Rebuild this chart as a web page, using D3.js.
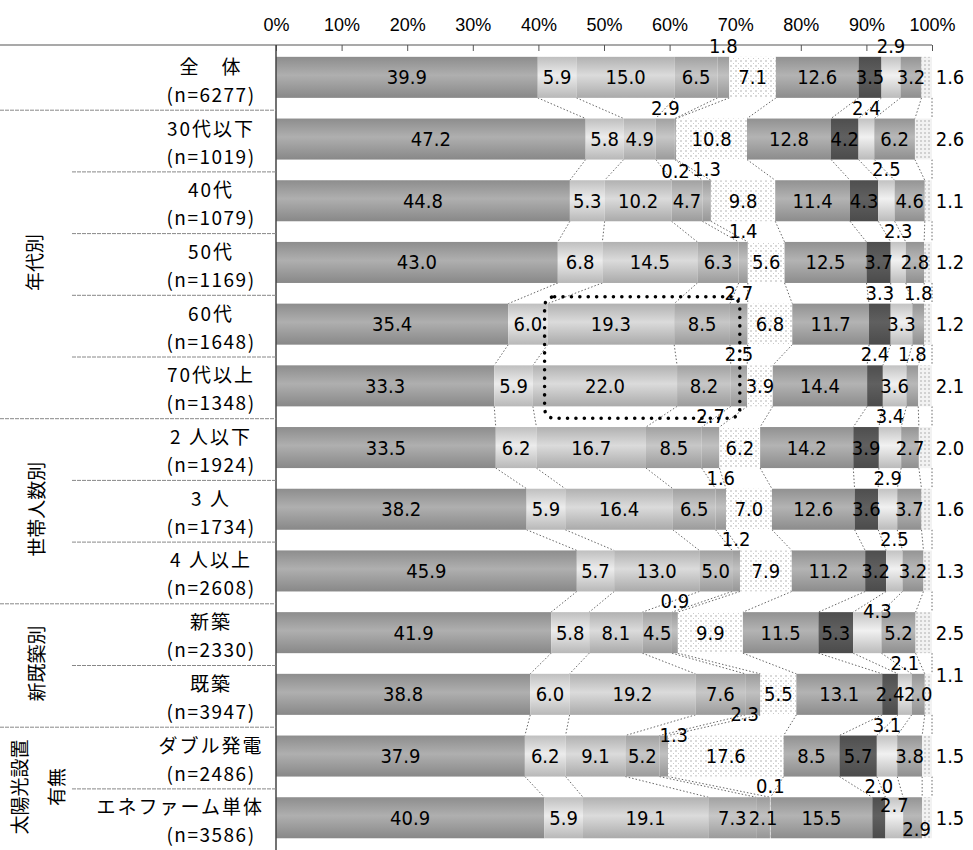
<!DOCTYPE html>
<html><head><meta charset="utf-8">
<script src="https://cdn.jsdelivr.net/npm/d3@7/dist/d3.min.js"></script>
<style>body{margin:0;background:#fff}svg{display:block}</style>
</head><body>
<svg id="chart" width="973" height="850"></svg>
<script>
// ---------------- data ----------------
const categories = ["全　体","30代以下","40代","50代","60代","70代以上","2 人以下","3 人","4 人以上","新築","既築","ダブル発電","エネファーム単体"];
const sampleSizes = [6277,1019,1079,1169,1648,1348,1924,1734,2608,2330,3947,2486,3586];
const tickValues = [0,0.1,0.2,0.3,0.4,0.5,0.6,0.7,0.8,0.9,1.0];

const s1  = [39.9,47.2,44.8,43.0,35.4,33.3,33.5,38.2,45.9,41.9,38.8,37.9,40.9];
const s2  = [5.9,5.8,5.3,6.8,6.0,5.9,6.2,5.9,5.7,5.8,6.0,6.2,5.9];
const s3  = [15.0,4.9,10.2,14.5,19.3,22.0,16.7,16.4,13.0,8.1,19.2,9.1,19.1];
const s4  = [6.5,2.9,4.7,6.3,8.5,8.2,8.5,6.5,5.0,4.5,7.6,5.2,7.3];
const s5  = [1.8,0.2,1.3,1.4,2.7,2.5,2.7,1.6,1.2,0.9,2.3,1.3,2.1];
const s6  = [7.1,10.8,9.8,5.6,6.8,3.9,6.2,7.0,7.9,9.9,5.5,17.6,0.1];
const s7  = [12.6,12.8,11.4,12.5,11.7,14.4,14.2,12.6,11.2,11.5,13.1,8.5,15.5];
const s8  = [3.5,4.2,4.3,3.7,3.3,2.4,3.9,3.6,3.2,5.3,2.4,5.7,2.0];
const s9  = [2.9,2.4,2.5,2.3,3.3,3.6,3.4,2.9,2.5,4.3,2.1,3.1,2.7];
const s10 = [3.2,6.2,4.6,2.8,1.8,1.8,2.7,3.7,3.2,5.2,2.0,3.8,2.9];
const s11 = [1.6,2.6,1.1,1.2,1.2,2.1,2.0,1.6,1.3,2.5,1.1,1.5,1.5];
const seriesArrays = [s1,s2,s3,s4,s5,s6,s7,s8,s9,s10,s11];
const seriesKeys = ["s1","s2","s3","s4","s5","s6","s7","s8","s9","s10","s11"];

// group labels (rotated) : name, first row, last row
const groupNames = ["年代別","世帯人数別","新既築別","太陽光設置","有無"];
const groupFirst = [1,6,9,11,11];
const groupLast  = [5,8,10,12,12];

// ---------------- layout / style ----------------
// label placement per row: c=centre a=above b=below t=top-inside e=top-edge l=low-inside d=bottom-edge r=right q=right-top
const labelPlace = [
 "ccccacccacr",
 "cccabcccacr",
 "ccccacccacr",
 "ccccacccacr",
 "ccccaccacar",
 "ccccaccacar",
 "ccccacccacr",
 "ccccacccacr",
 "ccccacccacr",
 "ccccacccecr",
 "ccccdcccacq",
 "cccceccacr".slice(0,5)+"cccacr",
 "cccccacatlr"
];
const colors = ["#a0a0a0","#d8d8d8","#c8c8c8","#b6b6b6","#b0b0b0","#ffffff","#a4a4a4","#585858","#dcdcdc","#a8a8a8","#eeeeee"];

const W = 973, H = 850;
const svg = d3.select("#chart");
svg.append("rect").attr("width",W).attr("height",H).attr("fill","#fff");

const x = d3.scaleLinear().domain([0,1]).range([276,932]);
const y = d3.scaleBand().domain(categories).range([46.5, 848.6]).paddingInner(0.335).paddingOuter(0.1675);
const bw = y.bandwidth();
const step = y.step();

const table = categories.map((c,i)=>{
  const o = {cat:c};
  seriesKeys.forEach((k,j)=>o[k]=seriesArrays[j][i]);
  return o;
});
const stacked = d3.stack().keys(seriesKeys).offset(d3.stackOffsetExpand)(table);

// defs: gradients and dotted patterns
const defs = svg.append("defs");
colors.forEach((c,j)=>{
  const g = defs.append("linearGradient").attr("id","g"+j).attr("x1",0).attr("x2",0).attr("y1",0).attr("y2",1);
  const base = d3.color(c);
  g.append("stop").attr("offset","0%").attr("stop-color", base.darker(0.35));
  g.append("stop").attr("offset","45%").attr("stop-color", base.brighter(0.25));
  g.append("stop").attr("offset","100%").attr("stop-color", base.darker(0.45));
});
const pat = defs.append("pattern").attr("id","dots").attr("width",5).attr("height",5).attr("patternUnits","userSpaceOnUse");
pat.append("rect").attr("width",5).attr("height",5).attr("fill","#fff");
pat.append("circle").attr("cx",1).attr("cy",1).attr("r",0.7).attr("fill","#9a9a9a");
pat.append("circle").attr("cx",3.5).attr("cy",3.5).attr("r",0.5).attr("fill","#bbb");
const pat2 = defs.append("pattern").attr("id","dots2").attr("width",4).attr("height",4).attr("patternUnits","userSpaceOnUse");
pat2.append("rect").attr("width",4).attr("height",4).attr("fill","#f2f2f2");
pat2.append("circle").attr("cx",1).attr("cy",1).attr("r",0.8).attr("fill","#a8a8a8");

const fillFor = j => j===5 ? "url(#dots)" : (j===10 ? "url(#dots2)" : "url(#g"+j+")");

// series lines (connecting segment ends between adjacent bars)
const sl = svg.append("g");
stacked.forEach((ser,j)=>{
  for(let i=0;i<categories.length-1;i++){
    sl.append("line")
      .attr("x1", x(ser[i][1])).attr("y1", y(categories[i])+bw)
      .attr("x2", x(ser[i+1][1])).attr("y2", y(categories[i+1]))
      .attr("stroke","#555").attr("stroke-width",0.9).attr("stroke-dasharray","1.5 2");
  }
});

// bars
const bars = svg.append("g");
stacked.forEach((ser,j)=>{
  bars.selectAll(null).data(ser).enter().append("rect")
    .attr("x", d=>x(d[0])).attr("width", d=>Math.max(0,x(d[1])-x(d[0])))
    .attr("y", d=>y(d.data.cat)).attr("height", bw)
    .attr("fill", fillFor(j));
});

// top axis
const axis = d3.axisTop(x).tickValues(tickValues).tickFormat(d3.format(".0%")).tickSize(-6).tickSizeOuter(0).tickPadding(14);
const axg = svg.append("g").attr("transform","translate(0,45)").call(axis);
axg.select(".domain").remove();
axg.selectAll(".tick line").attr("stroke","#555");
axg.selectAll(".tick text").attr("font-family","'Liberation Sans', Arial, sans-serif").attr("font-size",18).attr("fill","#000").attr("dy","0");
svg.append("line").attr("x1",0).attr("x2",x(1)).attr("y1",45).attr("y2",45).attr("stroke","#555").attr("stroke-width",1.2);
svg.append("line").attr("x1",x(0)).attr("x2",x(0)).attr("y1",45).attr("y2",H).attr("stroke","#444").attr("stroke-width",1.5);

// left separators
const groupStartRows = [0,1,6,9,11];
categories.forEach((c,i)=>{
  const yy = y(c) - (step-bw)/2 + 2;
  if(i===0) return;
  const full = groupStartRows.includes(i);
  svg.append("line").attr("x1", full?0:72).attr("x2", x(0)).attr("y1",yy).attr("y2",yy)
    .attr("stroke","#888").attr("stroke-width",1).attr("stroke-dasharray","4 1");
});

// category labels
const cjk = "'Noto Sans CJK JP','Noto Sans CJK SC',sans-serif";
categories.forEach((c,i)=>{
  const yc = y(c) + bw/2 + 2;
  const t1 = svg.append("text").text(c).attr("font-family",cjk).attr("font-size",19).attr("letter-spacing",2)
    .attr("text-anchor","middle").attr("dominant-baseline","central").attr("y", yc-14);
  const w1 = t1.node().getComputedTextLength();
  t1.attr("x", Math.min(211, 264 - w1/2));
  const t2 = svg.append("text").text("(n="+sampleSizes[i]+")").attr("font-family",cjk).attr("font-size",19).attr("letter-spacing",1.5)
    .attr("text-anchor","middle").attr("dominant-baseline","central").attr("y", yc+14);
  const w2 = t2.node().getComputedTextLength();
  t2.attr("x", Math.min(211, 264 - w2/2));
});

// group labels (rotated)
const groupX = [33,35,35,18,55];
groupNames.forEach((g,k)=>{
  const y0 = y(categories[groupFirst[k]]);
  const y1 = y(categories[groupLast[k]]) + bw;
  const cy = (y0+y1)/2;
  svg.append("text").text(g).attr("font-family",cjk).attr("font-size",19)
    .attr("text-anchor","middle").attr("dominant-baseline","central")
    .attr("transform",`translate(${groupX[k]},${cy}) rotate(-90)`);
});

// value labels
const numFont = "'Liberation Sans Narrow','DejaVu Sans Condensed','Liberation Sans',sans-serif";
const lab = svg.append("g").attr("font-family",numFont).attr("font-size",20).attr("fill","#000")
  .attr("text-anchor","middle").attr("dominant-baseline","central");
stacked.forEach((ser,j)=>{
  ser.forEach((d,i)=>{
    const code = labelPlace[i][j];
    const top = y(d.data.cat);
    let lx = (x(d[0])+x(d[1]))/2, ly = top + bw/2;
    if(code==="a") ly = top - 11;
    else if(code==="b") ly = top + bw + 11;
    else if(code==="t") ly = top + 8;
    else if(code==="e") { ly = top - 1; lx += 10; }
    else if(code==="l") { ly = top + bw - 9; lx += 4; }
    else if(code==="d") { ly = top + bw - 1; lx -= 8; }
    else if(code==="r") lx = x(1) + 18;
    else if(code==="q") { lx = x(1) + 18; ly = top + 1; }
    lab.append("text").attr("x",lx).attr("y",ly).text(d3.format(".1f")(seriesArrays[j][i]));
  });
});

// highlight (dotted rounded box around 60代 / 70代以上 middle segments)
const r5 = 4, r6 = 5;
const bx0 = x(stacked[1][r5][1]) - 3;
const bx1 = x(Math.max(stacked[3][r5][1], stacked[3][r6][1])) + 9;
const by0 = y(categories[r5]) - 7;
const by1 = y(categories[r6]) + bw + 12;
svg.append("rect").attr("x",bx0).attr("y",by0).attr("width",bx1-bx0).attr("height",by1-by0)
  .attr("rx",10).attr("fill","none").attr("stroke","#000").attr("stroke-width",3.5)
  .attr("stroke-linecap","round").attr("stroke-dasharray","0.1 8.3");
</script>
</body></html>
